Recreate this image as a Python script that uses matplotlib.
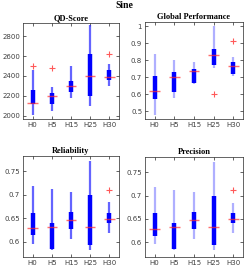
import matplotlib
matplotlib.use("Agg")
import matplotlib.pyplot as plt
import numpy as np

labels = ["H0", "H5", "H15", "H25", "H30"]

# QD-Score
qd_wlo = [2010, 2050, 2173, 2093, 2300]
qd_q1 = [2117, 2117, 2243, 2193, 2363]
qd_med = [2123, 2195, 2303, 2395, 2385]
qd_q3 = [2258, 2233, 2353, 2620, 2460]
qd_whi = [2455, 2287, 2503, 2910, 2523]
qd_out = [[2500], [2485], [], [], [2625]]

# Global Performance
gp_wlo = [0.481, 0.581, 0.663, 0.754, 0.710]
gp_q1 = [0.573, 0.615, 0.667, 0.773, 0.722]
gp_med = [0.621, 0.704, 0.735, 0.831, 0.764]
gp_q3 = [0.708, 0.733, 0.748, 0.866, 0.790]
gp_whi = [0.837, 0.800, 0.792, 1.000, 0.817]
gp_out = [[], [], [], [0.603], [0.910]]

# Reliability
re_wlo = [0.596, 0.582, 0.606, 0.583, 0.620]
re_q1 = [0.614, 0.585, 0.628, 0.593, 0.640]
re_med = [0.629, 0.632, 0.647, 0.632, 0.649]
re_q3 = [0.662, 0.641, 0.664, 0.700, 0.662]
re_whi = [0.718, 0.713, 0.707, 0.772, 0.684]
re_out = [[], [], [], [], [0.711]]

# Precision
pr_wlo = [0.596, 0.582, 0.606, 0.583, 0.620]
pr_q1 = [0.614, 0.585, 0.628, 0.593, 0.640]
pr_med = [0.629, 0.632, 0.647, 0.632, 0.649]
pr_q3 = [0.662, 0.641, 0.664, 0.700, 0.662]
pr_whi = [0.718, 0.713, 0.707, 0.772, 0.684]
pr_out = [[], [], [], [], [0.711]]

fig = plt.figure(figsize=(2.49, 2.66), dpi=100)
fig.text(0.5, 0.978, "Sine", ha="center", va="center", fontsize=7,
         fontweight="bold", family="Liberation Serif")

def panel(rect, title, wlo, q1, med, q3, whi, out, ylim, yticks, yticklabels, wcolor, walpha):
    ax = fig.add_axes(rect)
    x = np.arange(1, len(labels) + 1)
    ax.vlines(x, wlo, whi, color=wcolor, alpha=walpha, lw=1.6, zorder=2)
    ax.vlines(x, q1, q3, color="#0000ff", lw=3.2, zorder=3)
    ax.hlines(med, x - 0.27, x + 0.27, color="#ff3030", alpha=0.7, lw=1.0, zorder=4)
    for xi, o in zip(x, out):
        if o:
            ax.plot([xi] * len(o), o, "+", color="#ff3030", ms=4, mew=0.8, alpha=0.8, zorder=4)
    ax.set_xlim(0.5, len(labels) + 0.5)
    ax.set_ylim(*ylim)
    ax.set_xticks(x)
    ax.set_xticklabels(labels)
    ax.set_yticks(yticks)
    ax.set_yticklabels(yticklabels)
    ax.tick_params(direction="in", length=2, width=0.5, top=True, right=True,
                   labelsize=5, colors="#262626", labelcolor="#404040", pad=2)
    for s in ax.spines.values():
        s.set_linewidth(0.5)
        s.set_color("#262626")
    ax.set_title(title, fontsize=6, fontweight="bold", family="Liberation Serif", pad=2)
    return ax

panel([0.092, 0.553, 0.386, 0.361], "QD-Score", qd_wlo, qd_q1, qd_med, qd_q3, qd_whi, qd_out,
      (1967, 2935), [2000, 2200, 2400, 2600, 2800], ["2000", "2200", "2400", "2600", "2800"],
      "#3030ff", 0.75)
panel([0.582, 0.553, 0.394, 0.365], "Global Performance", gp_wlo, gp_q1, gp_med, gp_q3, gp_whi, gp_out,
      (0.456, 1.025), [0.5, 0.6, 0.7, 0.8, 0.9, 1.0], ["0.5", "0.6", "0.7", "0.8", "0.9", "1"],
      "#6060ff", 0.5)
panel([0.092, 0.034, 0.386, 0.38], "Reliability", re_wlo, re_q1, re_med, re_q3, re_whi, re_out,
      (0.568, 0.783), [0.6, 0.65, 0.7, 0.75], ["0.6", "0.65", "0.7", "0.75"],
      "#3030ff", 0.75)
panel([0.582, 0.034, 0.394, 0.376], "Precision", pr_wlo, pr_q1, pr_med, pr_q3, pr_whi, pr_out,
      (0.568, 0.783), [0.6, 0.65, 0.7, 0.75], ["0.6", "0.65", "0.7", "0.75"],
      "#6060ff", 0.5)

fig.savefig("out.png", dpi=100)
